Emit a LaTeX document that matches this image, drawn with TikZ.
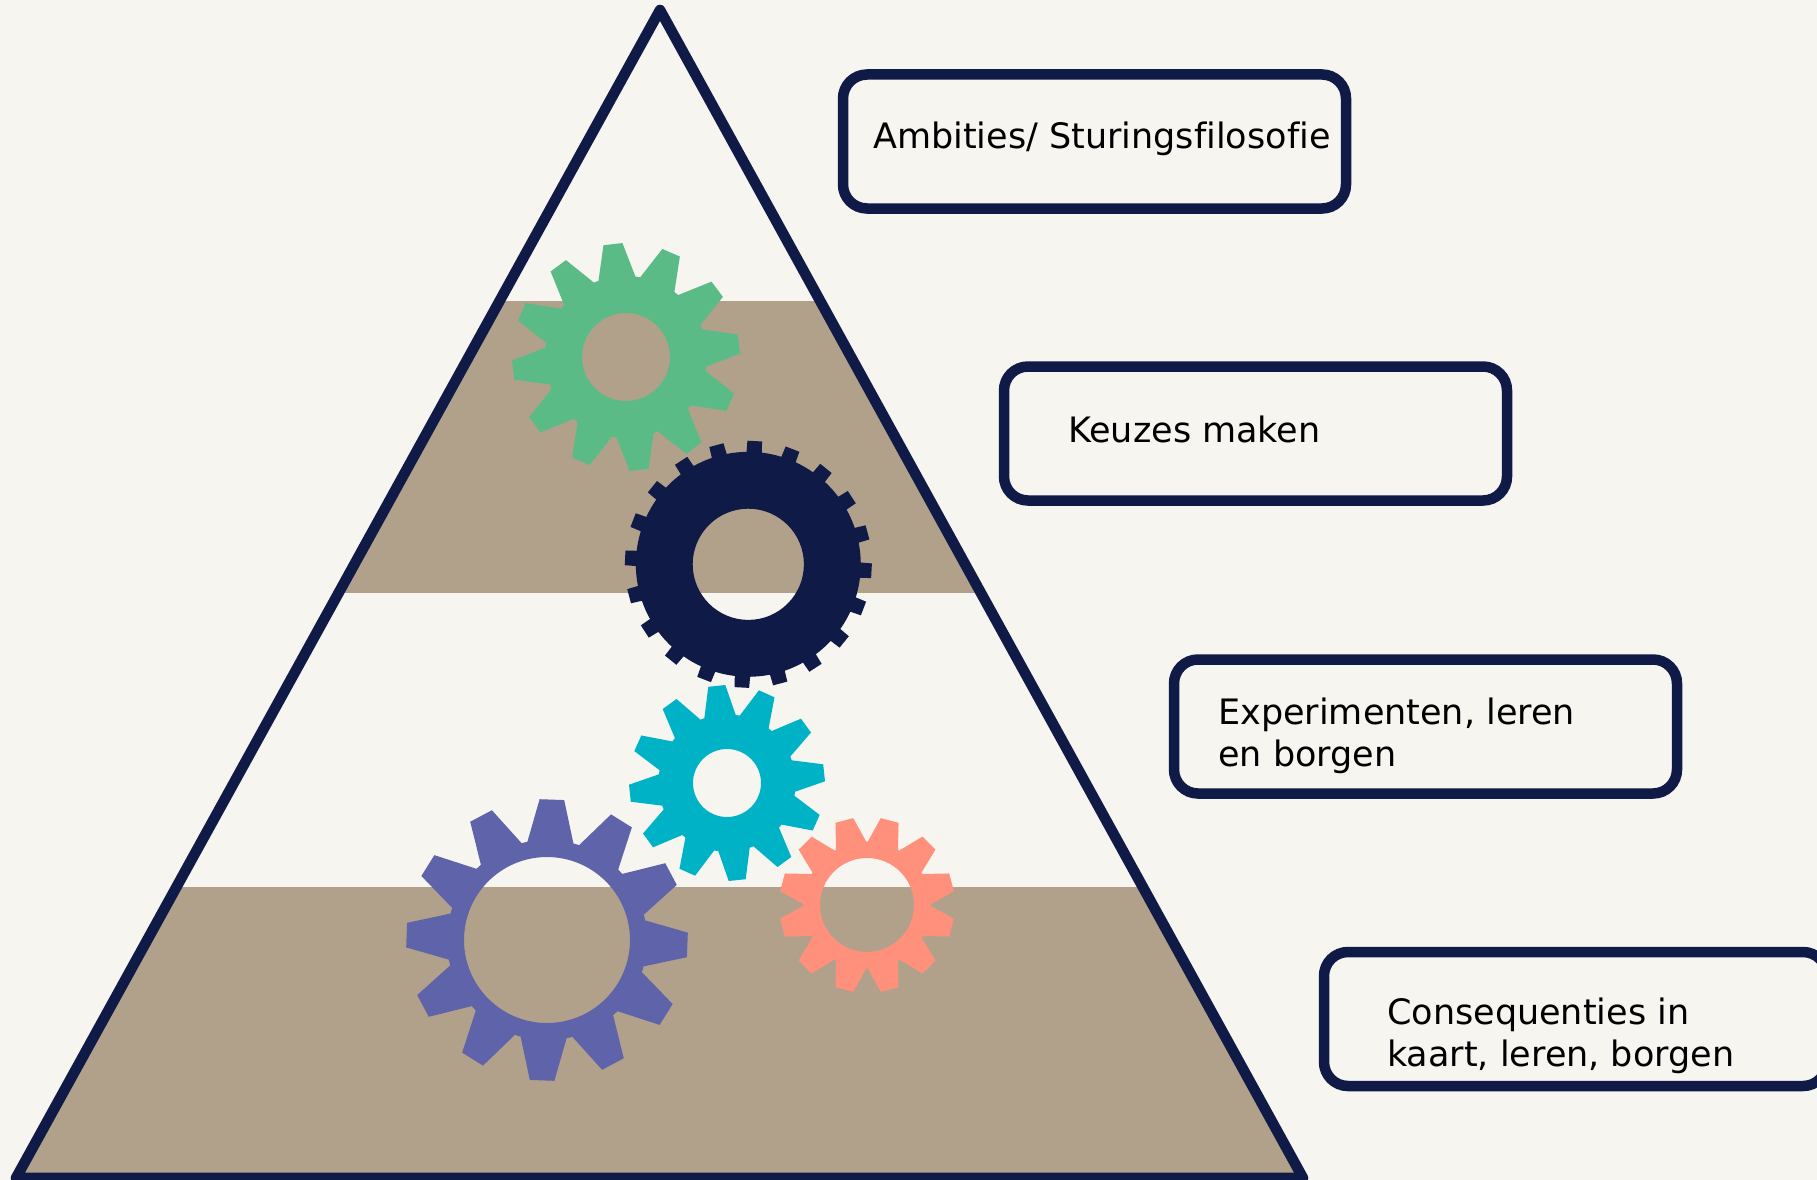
\documentclass[tikz,border=0pt]{standalone}
\usepackage{fontspec}
\setmainfont{DejaVu Sans}[Ligatures=NoCommon]
\definecolor{bgc}{HTML}{F6F5F0}
\definecolor{navyc}{HTML}{101A47}
\definecolor{tanc}{HTML}{B1A18A}
\definecolor{greenc}{HTML}{5ABB86}
\definecolor{purplec}{HTML}{5F63A9}
\definecolor{tealc}{HTML}{00B2C6}
\definecolor{salmonc}{HTML}{FF917C}
\tikzset{
  labelbox/.style={draw=navyc,line width=10.5pt,rounded corners=24pt,fill=bgc,minimum width=503pt,minimum height=134pt,inner sep=0pt},
  labeltext/.style={anchor=base west,inner sep=0pt,align=left,text=black,font=\fontsize{35}{42}\selectfont},
  triline/.style={draw=navyc,line width=10.6pt,line join=round,line cap=round}
}
% #1 colour, #2 cx, #3 cy, #4 radius, #5 hole radius, #6 teeth, #7 start angle
\def\gearroot{0.72}\def\geartip{5}\def\gearbase{13.2}
\newcommand{\cogpt}[4]{({#1+#3*\gearroot*cos(#4)},{#2-#3*\gearroot*sin(#4)})}
\newcommand{\cog}[7]{%
  \fill[#1,even odd rule]
    \cogpt{#2}{#3}{#4}{#7-180/#6}
    \foreach \k [evaluate=\k as \a using #7+360/#6*\k] in {0,...,\numexpr#6-1\relax}{
      -- \cogpt{#2}{#3}{#4}{\a-180/#6+(180/#6-\gearbase)/2}
      -- \cogpt{#2}{#3}{#4}{\a-\gearbase}
      -- ({#2+#4*cos(\a-\geartip)},{#3-#4*sin(\a-\geartip)})
      -- ({#2+#4*cos(\a+\geartip)},{#3-#4*sin(\a+\geartip)})
      -- \cogpt{#2}{#3}{#4}{\a+\gearbase}
      -- \cogpt{#2}{#3}{#4}{\a+180/#6-(180/#6-\gearbase)/2}
      -- \cogpt{#2}{#3}{#4}{\a+180/#6}
    } -- cycle
    (#2,#3) circle [radius=#5];
}
\begin{document}
\begin{tikzpicture}[x=1pt,y=-1pt]
\useasboundingbox (0,0) rectangle (1817,1180);
\fill[bgc] (0,0) rectangle (1817,1180);
\begin{scope}
  \clip (660,10) -- (16,1178) -- (1303,1178) -- cycle;
  \fill[tanc] (0,301) rectangle (1817,593);
  \fill[tanc] (0,887) rectangle (1817,1180);
\end{scope}
\draw[triline] (660,10) -- (16,1178) -- (1303,1178) -- cycle;
\def\gearroot{0.71}\def\geartip{4.8}\def\gearbase{13.3}
\cog{greenc}{626}{357}{114}{44}{12}{96.6}
\def\gearroot{0.71}\def\geartip{5}\def\gearbase{13.3}
\cog{purplec}{547}{940}{141}{83}{12}{88}
\def\gearroot{0.70}\def\geartip{5}\def\gearbase{13.3}
\cog{tealc}{727}{783}{98}{34}{12}{96}
\def\gearroot{0.72}\def\geartip{6}\def\gearbase{14.3}
\cog{salmonc}{867}{905}{88}{47}{12}{75}
\def\gearroot{0.91}\def\geartip{3.4}\def\gearbase{3.9}
\cog{navyc}{748.3}{564.3}{123.6}{55.6}{20}{87}
\node[labelbox] (b1) at (1094.5,141.5) {};
\node[labelbox] (b2) at (1255.5,433.5) {};
\node[labelbox] (b3) at (1425.5,726.5) {};
\node[labelbox] (b4) at (1575.5,1019) {};
\node[labeltext] (t1) at (873,148) {Ambities/ Sturingsfilosofie};
\node[labeltext] (t2) at (1068,442) {Keuzes maken};
\node[labeltext] (t3) at (1218,766) {Experimenten, leren\\en borgen};
\node[labeltext] (t4) at (1387,1066) {Consequenties in\\kaart, leren, borgen};
\end{tikzpicture}
\end{document}
